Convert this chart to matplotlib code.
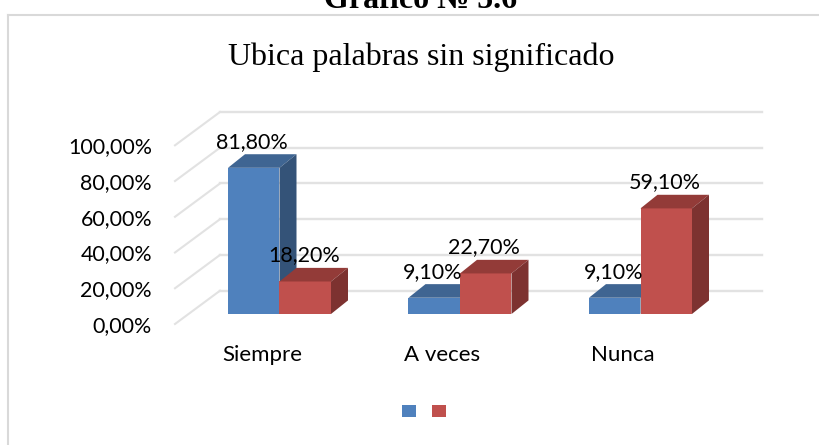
"""
Ubica palabras sin significado: 3D-look clustered bars, drawn flat with
extruded top and side faces.
"""

import matplotlib
matplotlib.use("Agg")
import matplotlib.pyplot as plt
from matplotlib.lines import Line2D
from matplotlib.patches import Patch, Polygon

categories = ["Siempre", "A veces", "Nunca"]
blue_vals = [81.8, 9.1, 9.1]
red_vals = [18.2, 22.7, 59.1]
bar_labels_blue = ["81,80%", "9,10%", "9,10%"]
bar_labels_red = ["18,20%", "22,70%", "59,10%"]
y_ticks = [0, 20, 40, 60, 80, 100]
y_tick_labels = ["0,00%", "20,00%", "40,00%", "60,00%", "80,00%", "100,00%"]

W, H = 820, 445
UI_FONT = "Lato"
SERIF = "Liberation Serif"

# pixel geometry of the plot region
AX_L, AX_R, AX_BOTTOM, AX_TOP = 175, 762, 324, 145.3
CAT_STEP = 180.5
CAT0_PX = 262
PX_PER_X = CAT_STEP
PX_PER_Y = (AX_BOTTOM - AX_TOP) / 100

BAR_W = 51.5 / PX_PER_X
BAR_OFF = (228 - CAT0_PX) / PX_PER_X
DEPTH_X = 17 / PX_PER_X
DEPTH_Y = 13.6 / PX_PER_Y
FLOOR = 10 / PX_PER_Y
WALL_X = 45 / PX_PER_X
WALL_Y = 33.3 / PX_PER_Y

BLUE = ("#4F81BD", "#3F6592", "#345378")
RED = ("#C0504D", "#933B38", "#7D3230")
GRID = "#E2E2E2"
FRAME = "#D9D9D9"


def bars_3d(ax, lefts, vals, cols):
    ax.bar(lefts, vals, width=BAR_W, bottom=FLOOR, align="edge", color=cols[0], zorder=3)
    for x, v in zip(lefts, vals):
        top = FLOOR + v
        ax.add_patch(Polygon([(x, top), (x + BAR_W, top),
                              (x + BAR_W + DEPTH_X, top + DEPTH_Y), (x + DEPTH_X, top + DEPTH_Y)],
                             closed=True, fc=cols[1], ec="none", zorder=3))
        ax.add_patch(Polygon([(x + BAR_W, FLOOR), (x + BAR_W + DEPTH_X, FLOOR + DEPTH_Y),
                              (x + BAR_W + DEPTH_X, top + DEPTH_Y), (x + BAR_W, top)],
                             closed=True, fc=cols[2], ec="none", zorder=3))


fig = plt.figure(figsize=(W / 100, H / 100), dpi=100)
ax = fig.add_axes([AX_L / W, 1 - AX_BOTTOM / H, (AX_R - AX_L) / W, (AX_BOTTOM - AX_TOP) / H])
ax.patch.set_alpha(0)
ax.set_xlim((AX_L - CAT0_PX) / PX_PER_X, (AX_R - CAT0_PX) / PX_PER_X)
ax.set_ylim(0, 100)
for s in ax.spines.values():
    s.set_visible(False)

# wall gridlines
x_start = ax.get_xlim()[0]
for v in y_ticks:
    ax.plot([x_start, x_start + WALL_X], [v, v + WALL_Y], color=GRID, lw=1.5, clip_on=False, zorder=1)
    ax.plot([x_start + WALL_X, ax.get_xlim()[1]], [v + WALL_Y, v + WALL_Y], color=GRID, lw=1.7,
            clip_on=False, zorder=1)

pos = list(range(len(categories)))
left_blue = [p + BAR_OFF for p in pos]
left_red = [x + BAR_W for x in left_blue]
bars_3d(ax, left_blue, blue_vals, BLUE)
bars_3d(ax, left_red, red_vals, RED)

for lefts, vals, labs in ((left_blue, blue_vals, bar_labels_blue), (left_red, red_vals, bar_labels_red)):
    for x, v, s in zip(lefts, vals, labs):
        ax.annotate(s, (x + BAR_W / 2, FLOOR + v), xytext=(-1, 18.7), textcoords="offset points",
                    ha="center", va="center", fontsize=15.5, family=UI_FONT, color="black",
                    annotation_clip=False, zorder=5)

ax.set_yticks(y_ticks)
ax.set_yticklabels(y_tick_labels, fontsize=15.4, family=UI_FONT, color="black")
ax.set_xticks(pos)
ax.set_xticklabels(categories, fontsize=16, family=UI_FONT, color="black")
ax.tick_params(axis="y", length=0, pad=16.5)
ax.tick_params(axis="x", length=0, pad=15)

# outer chart frame, open on the right and bottom
fig.add_artist(Line2D([8 / W, 8 / W], [0, 1 - 15 / H], color=FRAME, lw=1.5))
fig.add_artist(Line2D([8 / W, 1], [1 - 15 / H, 1 - 15 / H], color=FRAME, lw=1.5))

fig.text(421 / W, 1 - 65 / H, "Ubica palabras sin significado", family=SERIF, fontsize=23,
         ha="center", va="baseline", color="black")
# the heading is cut by the top edge in the source image too
fig.text(421 / W, 1 - 8 / H, "Gráfico № 5.6", family=SERIF, fontsize=23, fontweight="bold",
         ha="center", va="baseline", color="black")

handles = [Patch(fc=BLUE[0]), Patch(fc=RED[0])]
fig.legend(handles=handles, labels=["", ""], ncol=2, loc="center",
           bbox_to_anchor=(424 / W, 1 - 412 / H), frameon=False, fontsize=10,
           handlelength=1, handleheight=1, handletextpad=0, columnspacing=1.15,
           borderpad=0, borderaxespad=0)

fig.savefig("out.png", dpi=100)
